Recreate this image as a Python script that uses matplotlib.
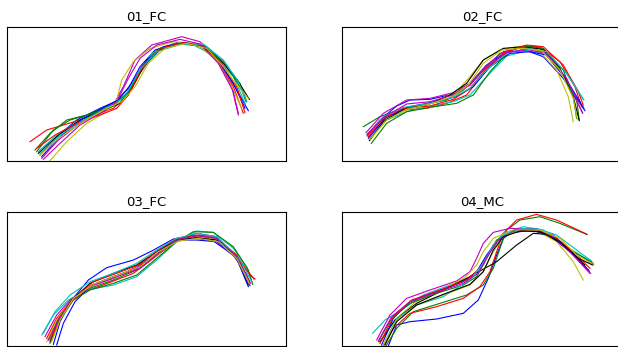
import matplotlib
matplotlib.use("Agg")
import matplotlib.pyplot as plt

# trajectories, (x, y) in screen units (y grows downward)
titles = ["01_FC", "02_FC", "03_FC", "04_MC"]
colors = ["b", "g", "r", "c", "m", "y", "k"]

fc01 = [
    [(120, 405), (170, 350), (230, 300), (300, 265), (345, 245), (385, 205), (420, 140), (465, 90), (530, 68), (600, 75), (660, 130), (705, 200), (745, 272)],
    [(105, 390), (150, 340), (200, 300), (260, 285), (330, 255), (380, 225), (430, 140), (480, 90), (545, 68), (610, 78), (670, 125), (720, 190), (740, 245)],
    [(90, 365), (140, 330), (200, 312), (270, 290), (340, 265), (385, 225), (420, 160), (465, 95), (530, 70), (595, 75), (650, 120), (700, 200), (730, 280)],
    [(115, 395), (170, 345), (240, 300), (320, 262), (370, 235), (410, 170), (455, 100), (520, 72), (580, 75), (640, 105), (700, 170), (735, 250)],
    [(130, 418), (180, 370), (240, 315), (300, 280), (340, 255), (370, 200), (405, 120), (455, 75), (545, 50), (600, 65), (650, 115), (695, 200), (715, 285)],
    [(150, 422), (200, 365), (260, 310), (320, 275), (350, 240), (365, 180), (400, 125), (450, 85), (520, 65), (590, 70), (650, 120), (700, 210), (725, 265)],
    [(115, 400), (170, 350), (240, 300), (310, 270), (360, 250), (395, 205), (430, 140), (475, 90), (545, 70), (610, 80), (670, 130), (715, 185), (748, 238)],
    [(125, 410), (180, 350), (250, 295), (320, 258), (355, 240), (395, 190), (440, 120), (490, 80), (555, 68), (615, 80), (665, 135), (700, 190), (735, 265)],
    [(110, 395), (160, 330), (210, 300), (280, 280), (340, 258), (385, 215), (425, 140), (475, 88), (540, 70), (620, 80), (680, 135), (725, 210), (738, 245)],
    [(110, 385), (165, 345), (240, 305), (300, 285), (350, 265), (385, 225), (430, 135), (480, 85), (550, 68), (615, 78), (665, 130), (710, 200), (735, 278)],
    [(120, 400), (180, 345), (260, 295), (330, 260), (375, 230), (420, 150), (470, 95), (540, 73), (610, 72), (670, 120), (715, 185), (740, 245)],
    [(125, 415), (175, 360), (240, 310), (310, 275), (350, 245), (385, 175), (420, 115), (470, 75), (540, 58), (600, 72), (655, 130), (700, 215), (715, 280)],
    [(120, 405), (175, 355), (250, 305), (320, 265), (365, 245), (405, 200), (445, 130), (495, 85), (560, 70), (620, 85), (670, 140), (710, 195), (745, 235)],
]

fc02 = [
    [(112, 345), (150, 300), (200, 258), (240, 240), (300, 238), (370, 222), (420, 195), (470, 135), (530, 95), (590, 92), (640, 110), (700, 175), (765, 272)],
    [(100, 320), (150, 290), (210, 268), (280, 255), (350, 240), (400, 210), (450, 160), (510, 100), (580, 80), (630, 85), (690, 150), (740, 240), (748, 300)],
    [(115, 350), (160, 300), (220, 270), (290, 265), (350, 250), (410, 225), (460, 160), (520, 100), (580, 78), (630, 80), (690, 125), (735, 200), (755, 260)],
    [(120, 355), (170, 300), (230, 275), (300, 258), (370, 245), (420, 225), (470, 170), (530, 108), (590, 92), (650, 100), (710, 160), (762, 240)],
    [(108, 338), (160, 280), (230, 240), (300, 235), (370, 218), (420, 190), (465, 140), (520, 95), (580, 82), (640, 95), (700, 165), (758, 278)],
    [(120, 360), (170, 295), (230, 270), (300, 250), (380, 215), (420, 170), (460, 120), (510, 90), (560, 80), (620, 85), (680, 150), (715, 230), (730, 305)],
    [(118, 362), (160, 305), (220, 268), (290, 255), (360, 225), (410, 190), (460, 120), (520, 85), (580, 80), (640, 88), (690, 145), (730, 230), (748, 302)],
    [(115, 355), (165, 295), (230, 262), (300, 248), (380, 230), (430, 200), (480, 140), (540, 100), (600, 95), (650, 105), (710, 180), (762, 265)],
    [(124, 370), (170, 310), (230, 275), (300, 262), (380, 250), (430, 225), (480, 155), (540, 90), (590, 78), (640, 85), (700, 150), (730, 230), (740, 295)],
    [(112, 348), (160, 295), (220, 265), (300, 258), (370, 238), (420, 205), (470, 145), (530, 95), (590, 75), (640, 80), (700, 135), (745, 215), (760, 255)],
    [(110, 345), (160, 290), (220, 262), (300, 250), (370, 232), (420, 205), (470, 150), (530, 100), (590, 85), (650, 95), (710, 160), (760, 238)],
    [(112, 342), (165, 290), (230, 252), (300, 245), (370, 225), (420, 195), (470, 140), (530, 98), (590, 88), (650, 100), (710, 175), (758, 280)],
    [(120, 358), (170, 300), (230, 268), (300, 252), (370, 228), (415, 195), (460, 130), (515, 90), (575, 85), (635, 92), (690, 150), (730, 235), (742, 298)],
]

fc03 = [
    [(160, 418), (180, 350), (215, 285), (265, 225), (320, 188), (400, 165), (455, 138), (520, 102), (580, 98), (640, 108), (700, 150), (740, 210), (750, 242)],
    [(145, 405), (175, 340), (215, 285), (270, 250), (340, 225), (410, 195), (470, 150), (530, 110), (590, 92), (650, 100), (710, 150), (748, 230)],
    [(140, 400), (170, 340), (210, 290), (260, 258), (330, 232), (400, 205), (460, 160), (530, 105), (590, 85), (650, 95), (720, 170), (762, 222)],
    [(125, 390), (160, 330), (205, 285), (260, 255), (340, 240), (410, 215), (470, 165), (530, 110), (590, 78), (640, 82), (700, 130), (740, 185), (755, 230)],
    [(135, 395), (170, 330), (210, 285), (270, 245), (340, 220), (410, 185), (470, 140), (530, 100), (590, 90), (650, 95), (710, 155), (752, 235)],
    [(140, 410), (170, 345), (215, 285), (270, 245), (340, 215), (410, 190), (470, 150), (530, 105), (590, 95), (650, 105), (710, 160), (745, 230)],
    [(150, 410), (175, 345), (215, 285), (270, 235), (340, 205), (410, 180), (470, 140), (530, 105), (590, 98), (650, 105), (710, 160), (745, 240)],
    [(170, 420), (190, 355), (225, 290), (275, 240), (340, 215), (410, 190), (470, 145), (530, 105), (590, 105), (650, 110), (710, 160), (745, 245)],
    [(150, 415), (180, 345), (220, 285), (270, 255), (340, 235), (410, 210), (470, 160), (530, 110), (580, 80), (640, 82), (700, 125), (745, 195), (758, 238)],
    [(150, 405), (180, 340), (220, 282), (280, 230), (350, 205), (420, 178), (475, 135), (530, 100), (590, 92), (650, 100), (710, 150), (750, 210), (765, 222)],
    [(130, 385), (165, 320), (210, 270), (270, 230), (340, 205), (410, 175), (470, 135), (530, 100), (590, 85), (650, 95), (720, 165), (755, 230)],
    [(145, 405), (178, 340), (220, 280), (280, 240), (350, 215), (420, 190), (475, 145), (530, 105), (590, 92), (650, 100), (710, 155), (748, 238)],
    [(155, 410), (180, 345), (220, 280), (280, 238), (350, 212), (420, 185), (475, 140), (535, 108), (595, 100), (655, 110), (710, 160), (748, 235)],
]

mc04 = [
    [(175, 423), (200, 360), (240, 350), (320, 342), (400, 325), (445, 285), (475, 220), (500, 150), (520, 100), (555, 75), (610, 72), (670, 90), (730, 145), (775, 195)],
    [(168, 423), (200, 370), (250, 320), (330, 295), (410, 270), (460, 240), (490, 190), (510, 130), (530, 75), (570, 45), (630, 35), (690, 55), (770, 88)],
    [(160, 423), (190, 370), (240, 325), (320, 305), (400, 280), (450, 245), (480, 200), (500, 140), (520, 85), (560, 45), (620, 28), (680, 45), (772, 88)],
    [(128, 385), (165, 345), (210, 318), (280, 270), (360, 240), (420, 220), (460, 180), (490, 120), (520, 85), (580, 65), (640, 75), (700, 120), (785, 170)],
    [(140, 405), (180, 330), (230, 280), (300, 255), (380, 228), (420, 200), (440, 160), (460, 115), (490, 82), (540, 70), (600, 72), (660, 92), (720, 140), (780, 205)],
    [(150, 415), (195, 345), (255, 292), (335, 255), (405, 218), (440, 180), (460, 140), (490, 100), (550, 75), (620, 78), (680, 110), (730, 170), (760, 225)],
    [(150, 410), (195, 345), (260, 295), (340, 255), (420, 215), (500, 170), (560, 120), (610, 85), (650, 88), (700, 120), (765, 180)],
    [(155, 420), (190, 340), (240, 290), (320, 260), (400, 230), (440, 200), (470, 150), (500, 110), (540, 85), (600, 75), (660, 90), (720, 140), (778, 198)],
    [(145, 410), (185, 340), (240, 295), (320, 265), (400, 240), (440, 215), (470, 160), (500, 105), (550, 78), (610, 72), (670, 95), (730, 140), (790, 175)],
    [(150, 415), (190, 335), (245, 285), (330, 255), (410, 225), (450, 190), (480, 140), (510, 100), (560, 78), (620, 75), (680, 100), (740, 150), (780, 190)],
    [(160, 420), (200, 340), (260, 300), (340, 275), (420, 225), (460, 175), (490, 120), (520, 90), (570, 72), (620, 70), (680, 90), (740, 135), (785, 168)],
    [(145, 408), (185, 335), (240, 290), (320, 262), (400, 235), (445, 205), (475, 150), (505, 105), (550, 80), (610, 72), (670, 95), (730, 150), (782, 205)],
    [(160, 420), (200, 345), (260, 300), (340, 270), (420, 240), (460, 200), (490, 140), (520, 95), (570, 75), (630, 75), (690, 100), (740, 150), (793, 180)],
    [(165, 420), (200, 350), (260, 300), (340, 268), (420, 238), (460, 200), (490, 135), (520, 95), (570, 78), (630, 80), (690, 110), (745, 160), (788, 180)],
]

panels = [fc01, fc02, fc03, mc04]
xlims = [(20, 858), (37, 875), (20, 858), (37, 875)]

# axes boxes in figure pixels: left, top
boxes = [(6.7, 26.7), (342.3, 26.7), (6.7, 211.7), (342.3, 211.7)]
W, H = 618, 347
aw, ah = 279.3, 134.3

fig = plt.figure(figsize=(W / 100, H / 100), dpi=100)
for i, curves in enumerate(panels):
    left, top = boxes[i]
    ax = fig.add_axes([left / W, 1 - (top + ah) / H, aw / W, ah / H])
    for j, pts in enumerate(curves):
        xs = [p[0] for p in pts]
        ys = [p[1] for p in pts]
        ax.plot(xs, ys, color=colors[j % len(colors)], linewidth=0.8,
                solid_joinstyle="round")
    ax.set_xlim(*xlims[i])
    ax.set_ylim(423, 20)
    ax.set_xticks([])
    ax.set_yticks([])
    ax.set_title(titles[i], fontsize=9.5, pad=4.5)

fig.savefig("out.png", dpi=100)
